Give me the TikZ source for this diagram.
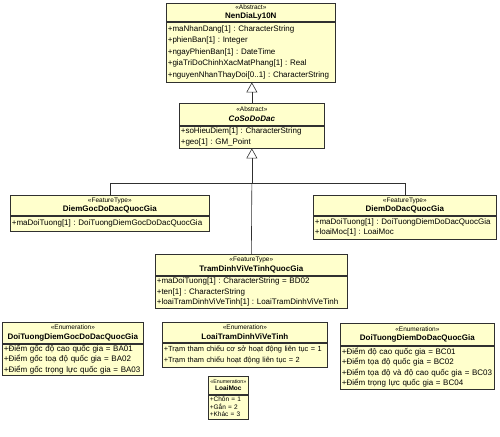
\documentclass[tikz,border=0pt]{standalone}
\usepackage{fontspec}
\setmainfont{Liberation Sans}
\usetikzlibrary{positioning,arrows.meta}
\definecolor{umlfill}{HTML}{FFFFCC}
\definecolor{umlline}{HTML}{303030}
\newcommand{\stereo}[1]{{\fontsize{6.5}{7}\selectfont «#1»}}
\frenchspacing
\tikzset{
  clshead/.style={draw=umlline, fill=umlfill, line width=0.7pt, anchor=north west, align=center, inner sep=0pt, font=\fontsize{8}{9.5}\selectfont},
  clsbody/.style={draw=umlline, fill=umlfill, line width=0.7pt, anchor=north west, align=left, inner xsep=1.5pt, inner ysep=0pt, font=\fontsize{8}{10.5}\selectfont},
  gen/.style={-{Triangle[open, length=10pt, width=11pt]}, draw=umlline, line width=0.6pt},
  assoc/.style={draw=umlline, line width=0.6pt}
}

\begin{document}
\begin{tikzpicture}[x=1pt, y=-1pt]
  \useasboundingbox (0,0) rectangle (500,436);

  % abstract classes
  \node[clshead, minimum width=169, minimum height=18] (nen) at (166,3) {\stereo{Abstract}\\\textbf{NenDiaLy10N}};
  \node[clsbody, text width=166, minimum height=60, font=\fontsize{8}{11.5}\selectfont] (nenA) at (nen.south west)
    {+maNhanDang[1] : CharacterString\\+phienBan[1] : Integer\\+ngayPhienBan[1] : DateTime\\+giaTriDoChinhXacMatPhang[1] : Real\\+nguyenNhanThayDoi[0..1] : CharacterString};

  \node[clshead, minimum width=145, minimum height=22] (coso) at (179,103) {\stereo{Abstract}\\\textbf{\textit{CoSoDoDac}}};
  \node[clsbody, text width=142, minimum height=22] (cosoA) at (coso.south west)
    {+soHieuDiem[1] : CharacterString\\+geo[1] : GM\_Point};

  % feature types
  \node[clshead, minimum width=199, minimum height=20] (goc) at (10,195) {\stereo{FeatureType}\\\textbf{DiemGocDoDacQuocGia}};
  \node[clsbody, text width=196, minimum height=15] (gocA) at (goc.south west)
    {+maDoiTuong[1] : DoiTuongDiemGocDoDacQuocGia};

  \node[clshead, minimum width=183, minimum height=20] (dodac) at (313,195) {\stereo{FeatureType}\\\textbf{DiemDoDacQuocGia}};
  \node[clsbody, text width=180, minimum height=23] (dodacA) at (dodac.south west)
    {+maDoiTuong[1] : DoiTuongDiemDoDacQuocGia\\+loaiMoc[1] : LoaiMoc};

  \node[clshead, minimum width=192, minimum height=21] (tram) at (155,254) {\stereo{FeatureType}\\\textbf{TramDinhViVeTinhQuocGia}};
  \node[clsbody, text width=189, minimum height=32] (tramA) at (tram.south west)
    {+maDoiTuong[1] : CharacterString = BD02\\+ten[1] : CharacterString\\+loaiTramDinhViVeTinh[1] : LoaiTramDinhViVeTinh};

  % enumerations
  \node[clshead, minimum width=141, minimum height=21] (engoc) at (2,322) {\stereo{Enumeration}\\\textbf{DoiTuongDiemGocDoDacQuocGia}};
  \node[clsbody, text width=138, minimum height=31] (engocA) at (engoc.south west)
    {+Điểm gốc độ cao quốc gia = BA01\\+Điểm gốc toạ độ quốc gia = BA02\\+Điểm gốc trọng lực quốc gia = BA03};

  \node[clshead, minimum width=165, minimum height=20] (entram) at (162,322) {\stereo{Enumeration}\\\textbf{LoaiTramDinhViVeTinh}};
  \node[clsbody, text width=162, minimum height=24, font=\fontsize{7.4}{10.5}\selectfont] (entramA) at (entram.south west)
    {+Trạm tham chiếu cơ sở hoạt động liên tục = 1\\+Trạm tham chiếu hoạt động liên tục = 2};

  \node[clshead, minimum width=154, minimum height=22] (endodac) at (340,323) {\stereo{Enumeration}\\\textbf{DoiTuongDiemDoDacQuocGia}};
  \node[clsbody, text width=151, minimum height=43] (endodacA) at (endodac.south west)
    {+Điểm độ cao quốc gia = BC01\\+Điểm tọa độ quốc gia = BC02\\+Điểm tọa độ và độ cao quốc gia = BC03\\+Điểm trọng lực quốc gia = BC04};

  \node[clshead, minimum width=40, minimum height=18, font=\fontsize{6.5}{7.5}\selectfont] (enmoc) at (208,376) {{\fontsize{5.3}{6}\selectfont «Enumeration»}\\\textbf{LoaiMoc}};
  \node[clsbody, text width=37, minimum height=24, font=\fontsize{6.5}{7.5}\selectfont] (enmocA) at (enmoc.south west)
    {+Chôn = 1\\+Gắn = 2\\+Khác = 3};

  % generalisations
  \coordinate (jn) at (coso.south |- 0,183);
  \draw[gen] (coso.north) -- (coso.north |- nenA.south);
  \draw[gen] (jn) -- (cosoA.south);
  \draw[assoc] (goc.north) |- (jn);
  \draw[assoc] (dodac.north) |- (jn);
  \draw[assoc] (tram.north) -- (jn);
\end{tikzpicture}
\end{document}
